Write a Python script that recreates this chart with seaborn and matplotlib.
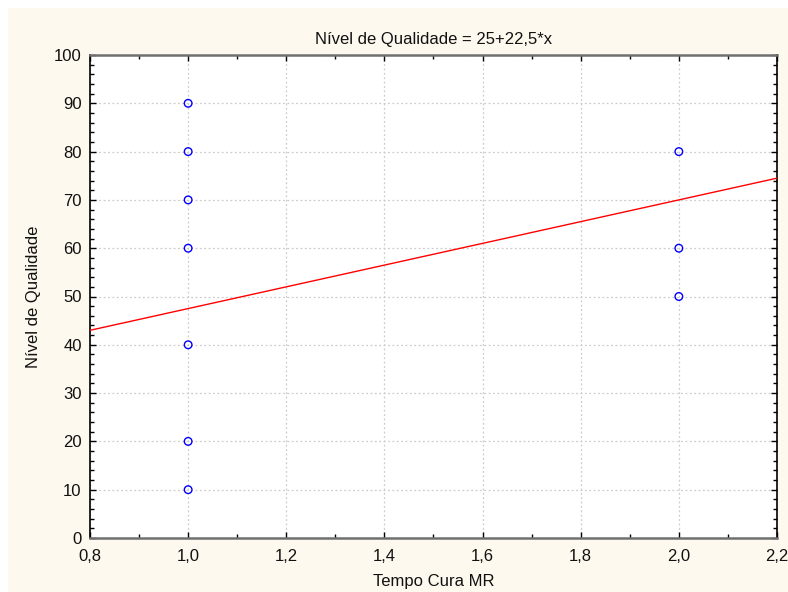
import matplotlib
matplotlib.use("Agg")
import matplotlib.pyplot as plt
import seaborn as sns
import numpy as np
import pandas as pd
from matplotlib.patches import Rectangle
from matplotlib.ticker import MultipleLocator, FuncFormatter

# Data
tempo = [1.0, 1.0, 1.0, 1.0, 1.0, 1.0, 1.0, 2.0, 2.0, 2.0]
qualidade = [90, 80, 70, 60, 40, 20, 10, 80, 60, 50]
intercept = 25.0
slope = 22.5
x_range = [0.8, 2.2]

title = "Nível de Qualidade = 25+22,5*x"
xlabel = "Tempo Cura MR"
ylabel = "Nível de Qualidade"

sns.set_theme(style="white")
plt.rcParams['font.family'] = ['Liberation Sans', 'DejaVu Sans']

fig = plt.figure(figsize=(7.88, 5.92), dpi=100, facecolor="white")
fig.patches.append(Rectangle((8/788, 0), 1 - 8/788, 1 - 8/592, transform=fig.transFigure,
                             facecolor="#FEF9EE", edgecolor="none", zorder=-10))
ax = fig.add_axes([90/788, 1 - 538/592, (777-90)/788, (538-55)/592])
ax.set_facecolor("white")

df = pd.DataFrame({"x": tempo, "y": qualidade})
lx = np.array(x_range)
ldf = pd.DataFrame({"x": lx, "y": intercept + slope * lx})
sns.lineplot(data=ldf, x="x", y="y", ax=ax, color="#FF0000", linewidth=1.0, zorder=3)
sns.scatterplot(data=df, x="x", y="y", ax=ax, marker="o", s=30, facecolor="none",
                edgecolor="#0000FF", linewidth=1.0, zorder=4)

ax.set_xlim(0.8, 2.2)
ax.set_ylim(0, 100)
ax.xaxis.set_major_locator(MultipleLocator(0.2))
ax.xaxis.set_minor_locator(MultipleLocator(0.1))
ax.yaxis.set_major_locator(MultipleLocator(10))
ax.yaxis.set_minor_locator(MultipleLocator(2))
ax.xaxis.set_major_formatter(FuncFormatter(lambda v, p: f"{v:.1f}".replace(".", ",")))
ax.yaxis.set_major_formatter(FuncFormatter(lambda v, p: f"{v:.0f}"))
ax.tick_params(which="both", direction="in", top=True, right=True, bottom=True, left=True,
               color="black", labelsize=12, labelcolor="#111111")
ax.tick_params(which="major", length=4, width=1)
ax.tick_params(which="minor", length=3, width=1)
ax.tick_params(axis="x", pad=8)
ax.tick_params(axis="y", pad=6)

ax.grid(True, which="major", color="#CCCCCC", linestyle=(0, (1.5, 2)), linewidth=0.9)
ax.set_axisbelow(True)
for s in ["top", "bottom"]:
    ax.spines[s].set_color("#707070")
    ax.spines[s].set_linewidth(1.8)
for s in ["left", "right"]:
    ax.spines[s].set_color("black")
    ax.spines[s].set_linewidth(1.2)

ax.set_title(title, fontsize=12, pad=8, color="#111111")
ax.set_xlabel(xlabel, fontsize=12, labelpad=7, color="#111111")
ax.set_ylabel(ylabel, fontsize=12, labelpad=9, color="#111111")

fig.savefig("out.png", dpi=100, facecolor=fig.get_facecolor())
